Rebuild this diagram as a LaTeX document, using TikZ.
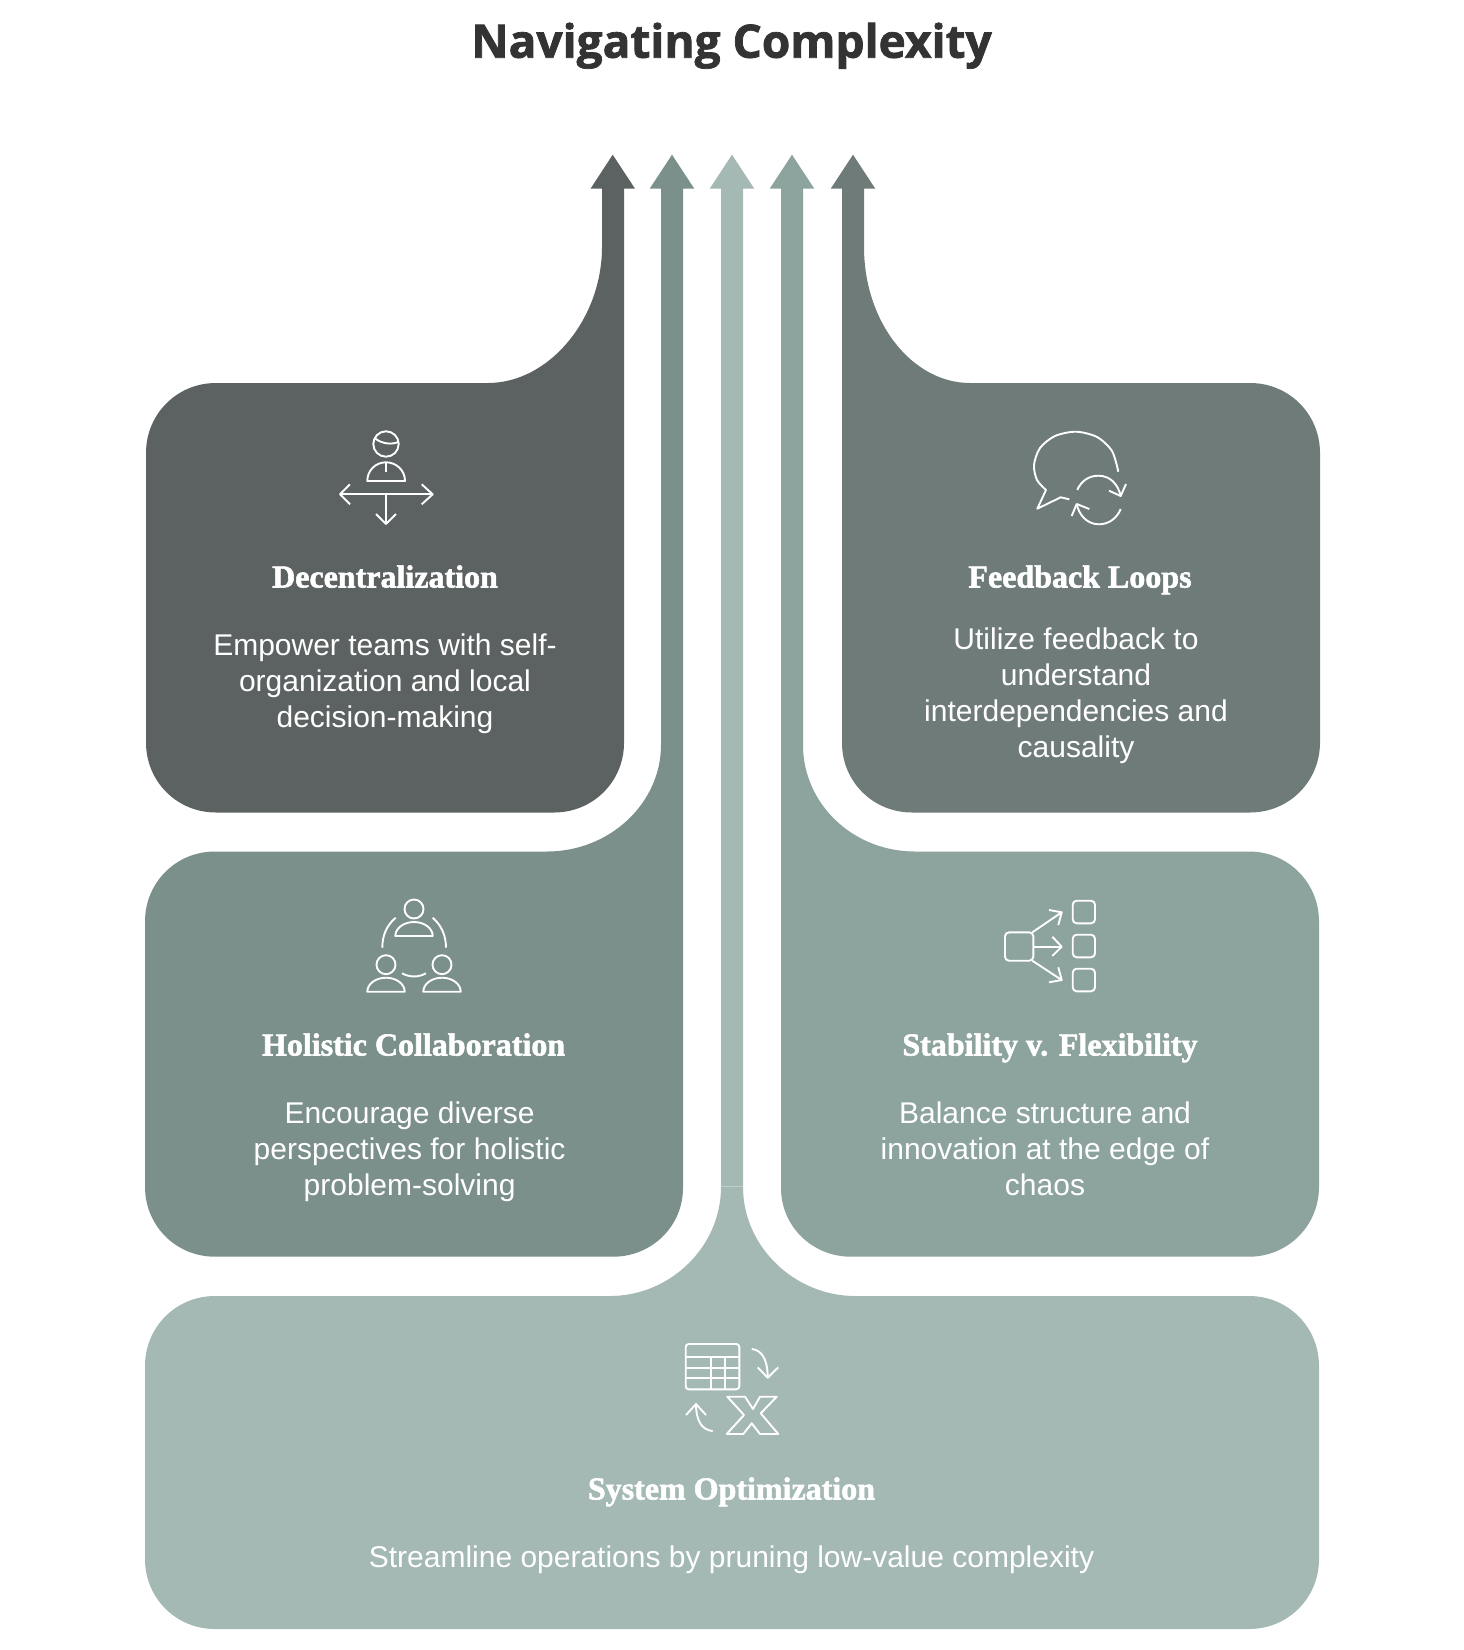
\documentclass[tikz,border=0pt]{standalone}
\usepackage{fontspec}
\setsansfont{Liberation Sans}
\newfontfamily\titlefont{Open Sans}[BoldFeatures={FakeBold=1.6}]
\newfontfamily\headfont{Liberation Serif}[BoldFeatures={FakeBold=1.8}]
\usepackage{tikz}
\usetikzlibrary{positioning}

\definecolor{bandone}{HTML}{5C6261}
\definecolor{bandtwo}{HTML}{7B8F8B}
\definecolor{bandthree}{HTML}{A4B8B4}
\definecolor{bandfour}{HTML}{8DA39E}
\definecolor{bandfive}{HTML}{6F7B79}

\tikzset{
    headtext/.style={inner sep=0pt, text=white, align=center, text height=22pt, text depth=7pt, font=\headfont\bfseries\fontsize{32}{36}\selectfont},
    bodytext/.style={inner sep=0pt, text=white, align=center, font=\sffamily\fontsize{30}{36}\selectfont},
    iconline/.style={draw=white, line width=1.9pt, line join=round},
    person/.pic={
        \draw [iconline] (0,-27) circle (9.5);
        \draw [iconline] (-18.7,0) .. controls (-18.7,-8) and (-10,-14) .. (0,-14) .. controls (10,-14) and (18.7,-8) .. (18.7,0) -- cycle;
    }
}

\begin{document}
\begin{tikzpicture}[x=1pt, y=-1pt]
    \useasboundingbox (0,0) rectangle (1464,1650);

    % Title
    \node (title) [anchor=base, inner sep=0pt, text=black!80, font=\titlefont\bfseries\fontsize{46}{50}\selectfont] at (731.5,57.7) {Navigating Complexity};

    % Bands
    \fill [bandone] (146,453) .. controls (146,414) and (177,383) .. (216,383) -- (488,383) .. controls (549,383) and (602,319) .. (602,247) -- (602,188.7) -- (590.5,188.7) -- (612.7,154.7) -- (635,188.7) -- (624,188.7) -- (624,743) .. controls (624,781.5) and (593,812.5) .. (554,812.5) -- (216,812.5) .. controls (177,812.5) and (146,781.5) .. (146,742.5) -- cycle;
    \fill [bandtwo] (145,921.5) .. controls (145,882.5) and (176,851.5) .. (215,851.5) -- (547,851.5) .. controls (610,851.5) and (661,803) .. (661,745) -- (661,188.7) -- (649.7,188.7) -- (672,154.7) -- (694.3,188.7) -- (683,188.7) -- (683,1188) .. controls (683,1226) and (652,1256.7) .. (613,1256.7) -- (215,1256.7) .. controls (176,1256.7) and (145,1225.7) .. (145,1186.7) -- cycle;
    \fill [bandthree] (721,1186.5) -- (721,188.7) -- (709.7,188.7) -- (732,154.7) -- (754.3,188.7) -- (743,188.7) -- (743,1186.5) -- cycle;
    \fill [bandthree] (145,1366) .. controls (145,1327) and (176,1296) .. (215,1296) -- (610,1296) .. controls (670,1296) and (721,1247) .. (721,1186.9) -- (743,1186.9) .. controls (743,1247) and (795,1296) .. (855,1296) -- (1249,1296) .. controls (1288,1296) and (1319,1327) .. (1319,1366) -- (1319,1559) .. controls (1319,1598) and (1288,1629) .. (1249,1629) -- (215,1629) .. controls (176,1629) and (145,1598) .. (145,1559) -- cycle;
    \fill [bandfour] (1319,921.5) .. controls (1319,882.5) and (1288,851.5) .. (1249,851.5) -- (915,851.5) .. controls (852,851.5) and (803,803) .. (803,745) -- (803,188.7) -- (814.3,188.7) -- (792,154.7) -- (769.7,188.7) -- (781,188.7) -- (781,1188) .. controls (781,1226) and (812,1256.7) .. (851,1256.7) -- (1249,1256.7) .. controls (1288,1256.7) and (1319,1225.7) .. (1319,1186.7) -- cycle;
    \fill [bandfive] (1320,453) .. controls (1320,414) and (1289,383) .. (1250,383) -- (970,383) .. controls (912,383) and (864,322) .. (864,247) -- (864,188.7) -- (875.3,188.7) -- (853,154.7) -- (830.7,188.7) -- (842,188.7) -- (842,743) .. controls (842,781.5) and (873,812.5) .. (912,812.5) -- (1250,812.5) .. controls (1289,812.5) and (1320,781.5) .. (1320,742.5) -- cycle;

    % Headings
    \node (decen) [headtext] at (385,580) {Decentralization};
    \node (feed) [headtext] at (1080,580) {Feedback Loops};
    \node (holi) [headtext] at (413.6,1048) {Holistic Collaboration};
    \node (stab) [headtext] at (1050,1048) {Stability v. Flexibility};
    \node (syst) [headtext] at (731.5,1492) {System Optimization};

    % Body text
    \node (decenbody) [bodytext, below=39pt of decen] {Empower teams with self-\\organization and local\\decision-making};
    \node (feedbody) [bodytext, below=33pt of feed, xshift=-4pt] {Utilize feedback to\\understand\\interdependencies and\\causality};
    \node (holibody) [bodytext, below=39pt of holi, xshift=-4pt] {Encourage diverse\\perspectives for holistic\\problem-solving};
    \node (stabbody) [bodytext, below=39pt of stab, xshift=-5pt] {Balance structure and\\innovation at the edge of\\chaos};
    \node (systbody) [bodytext, below=39pt of syst] {Streamline operations by pruning low-value complexity};

    % Decentralization icon
    \draw [iconline] (386,444) circle (12.7);
    \draw [iconline] (375,438.3) .. controls (382,444) and (392,445) .. (399,441.7);
    \draw [iconline] (367.3,481) .. controls (367.3,470) and (376,462.3) .. (386,462.3) .. controls (396,462.3) and (405,470) .. (405,481) -- cycle;
    \draw [iconline] (386,462.3) -- (386,471.7);
    \draw [iconline] (340,494.3) -- (432.7,494.3);
    \draw [iconline] (350,484.3) -- (340,494.3) -- (350,504.3);
    \draw [iconline] (421.7,484.3) -- (432.7,494.3) -- (421.7,504.3);
    \draw [iconline] (386,494.3) -- (386,524);
    \draw [iconline] (376,514) -- (386,524) -- (396,514);

    % Feedback icon
    \draw [iconline] plot [smooth] coordinates {(1118.3,471.7) (1112,451) (1097,437) (1076,431.7) (1055,436) (1040,448) (1034,465) (1037,480) (1046,490)} -- (1037.3,508.7) -- (1060.7,497.3) -- (1069.3,499.3);
    \draw [iconline] (1077.3,490) .. controls (1081,481) and (1089,475.7) .. (1098.3,475.7) .. controls (1110,475.7) and (1118,484) .. (1120.7,496);
    \draw [iconline] (1126,484) -- (1120.7,496) -- (1109,490.7);
    \draw [iconline] (1120.7,509) .. controls (1117,518) and (1109,524.3) .. (1099,524.3) .. controls (1087,524.3) and (1079,515) .. (1076.7,504);
    \draw [iconline] (1071.7,516) -- (1076.7,504) -- (1089.3,509);

    % Collaboration icon
    \pic at (414,936) {person};
    \pic at (386,991.7) {person};
    \pic at (442,991.7) {person};
    \draw [iconline] (382.3,947.7) .. controls (382.3,935) and (387,925) .. (395.7,917.7);
    \draw [iconline] (446,947.7) .. controls (446,935) and (441,925) .. (432.7,917.7);
    \draw [iconline] (402,973.3) .. controls (410,977.5) and (418,977.5) .. (426,973.3);

    % Stability icon
    \draw [iconline, rounded corners=4pt] (1005,932.3) rectangle (1033.3,960.7);
    \draw [iconline, rounded corners=4pt] (1072.7,900.7) rectangle (1095,923.3);
    \draw [iconline, rounded corners=4pt] (1072.7,934.7) rectangle (1095,957.3);
    \draw [iconline, rounded corners=4pt] (1072.7,968.7) rectangle (1095,991.3);
    \draw [iconline] (1032.3,932.3) -- (1061.7,912.3);
    \draw [iconline] (1049,910) -- (1061.7,912.3) -- (1058.3,925);
    \draw [iconline] (1033.3,946.7) -- (1061.7,946.7);
    \draw [iconline] (1052.3,936.7) -- (1061.7,946.7) -- (1052.3,956);
    \draw [iconline] (1032.3,960.7) -- (1061.7,980);
    \draw [iconline] (1058.3,967.3) -- (1061.7,980) -- (1049,982.3);

    % Optimization icon
    \draw [iconline, rounded corners=3pt] (685.7,1344) rectangle (739.3,1389.3);
    \draw [iconline] (685.7,1357.3) -- (739.3,1357.3);
    \draw [iconline] (685.7,1367.7) -- (739.3,1367.7);
    \draw [iconline] (685.7,1378.3) -- (739.3,1378.3);
    \draw [iconline] (710.7,1357.3) -- (710.7,1389.3);
    \draw [iconline] (725,1357.3) -- (725,1389.3);
    \draw [iconline] (751.7,1349) .. controls (761,1350) and (767.7,1358) .. (767.7,1377.7);
    \draw [iconline] (757.7,1367.3) -- (767.7,1377.7) -- (778.3,1367.3);
    \draw [iconline] (696,1404) .. controls (696,1421) and (702,1430) .. (712.7,1431);
    \draw [iconline] (686,1415) -- (696,1404) -- (706,1415);
    \draw [iconline] (727.3,1396.7) -- (745,1396.7) -- (753,1409) -- (760,1396.7) -- (776.7,1396.7) -- (760.7,1413.3) -- (778.3,1434) -- (760,1434) -- (751.7,1423.3) -- (743.3,1434) -- (726.7,1434) -- (744,1415) -- cycle;
\end{tikzpicture}
\end{document}
